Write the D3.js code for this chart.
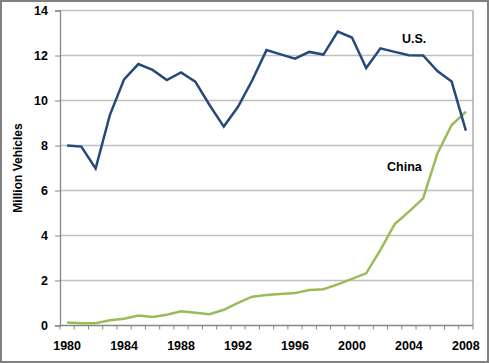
<!doctype html>
<meta charset="utf-8">
<title>Vehicle sales</title>
<script src="https://cdn.jsdelivr.net/npm/d3@7"></script>
<style>
  body { margin: 0; background: #fff; }
  text { font-family: "Liberation Sans", Arial, sans-serif; font-weight: bold; fill: #000; }
</style>
<body>
<script>
var years = d3.range(1980, 2009);
var usSales = [8.0, 7.95, 6.98, 9.35, 10.94, 11.62, 11.36, 10.91, 11.25, 10.84,
  9.8, 8.84, 9.72, 10.9, 12.24, 12.05, 11.86, 12.16, 12.04, 13.06,
  12.8, 11.44, 12.32, 12.16, 12.01, 12.0, 11.31, 10.84, 8.66];
var chinaSales = [0.13, 0.1, 0.1, 0.23, 0.3, 0.44, 0.38, 0.48, 0.63, 0.57,
  0.5, 0.7, 1.01, 1.28, 1.36, 1.4, 1.44, 1.58, 1.61, 1.83,
  2.07, 2.32, 3.36, 4.51, 5.06, 5.65, 7.65, 8.91, 9.5];
var yTicks = [0, 2, 4, 6, 8, 10, 12, 14];
var xLabels = [1980, 1984, 1988, 1992, 1996, 2000, 2004, 2008];

var width = 489, height = 363;
var plotL = 60, plotR = 473, plotT = 10.5, plotB = 325.5;

var svg = d3.select('body').append('svg')
  .attr('width', width)
  .attr('height', height);

// outer frame
svg.append('rect')
  .attr('x', 1).attr('y', 1)
  .attr('width', width - 2).attr('height', height - 2)
  .attr('fill', '#fff')
  .attr('stroke', '#808080')
  .attr('stroke-width', 2);

var x = d3.scaleBand().domain(years).range([plotL, plotR]);
var y = d3.scaleLinear().domain([0, 14]).range([plotB, plotT]);
var cx = function(yr) { return x(yr) + x.bandwidth() / 2; };

// gridlines
svg.append('g').selectAll('line')
  .data(yTicks.filter(function(d) { return d > 0; }))
  .enter().append('line')
  .attr('x1', plotL).attr('x2', plotR)
  .attr('y1', function(d) { return y(d); })
  .attr('y2', function(d) { return y(d); })
  .attr('stroke', '#c0c0c0')
  .attr('stroke-width', 1.3);

// plot frame right side
svg.append('line')
  .attr('x1', plotR).attr('x2', plotR)
  .attr('y1', plotT).attr('y2', plotB)
  .attr('stroke', '#a0a0a0').attr('stroke-width', 1.3);

// y axis
var yAxis = svg.append('g')
  .attr('transform', 'translate(' + plotL + ',0)')
  .call(d3.axisLeft(y).tickValues(yTicks).tickSize(5).tickPadding(7));
yAxis.select('.domain').attr('stroke', '#868686').attr('stroke-width', 1.3);
yAxis.selectAll('.tick line').attr('stroke', '#868686');
yAxis.selectAll('text').style('font-size', '12.5px').style('font-family', '"Liberation Sans", Arial, sans-serif').style('font-weight', 'bold');

// x axis: ticks on category boundaries
var xAxisG = svg.append('g');
xAxisG.append('line')
  .attr('x1', plotL).attr('x2', plotR)
  .attr('y1', plotB).attr('y2', plotB)
  .attr('stroke', '#868686').attr('stroke-width', 1.3);
xAxisG.selectAll('line.tk')
  .data(years.concat([2009]))
  .enter().append('line')
  .attr('class', 'tk')
  .attr('x1', function(d) { return d === 2009 ? plotR : x(d); })
  .attr('x2', function(d) { return d === 2009 ? plotR : x(d); })
  .attr('y1', plotB).attr('y2', plotB + 4)
  .attr('stroke', '#868686');
xAxisG.selectAll('text')
  .data(xLabels)
  .enter().append('text')
  .attr('x', function(d) { return cx(d); })
  .attr('y', plotB + 24)
  .attr('text-anchor', 'middle')
  .style('font-size', '12.5px')
  .text(function(d) { return d; });

// axis title
svg.append('text')
  .attr('transform', 'translate(22,' + ((plotT + plotB) / 2) + ') rotate(-90)')
  .attr('text-anchor', 'middle')
  .style('font-size', '12px')
  .text('Million Vehicles');

var line = d3.line()
  .x(function(d, i) { return cx(years[i]); })
  .y(function(d) { return y(d); });

svg.append('path')
  .datum(chinaSales)
  .attr('d', line)
  .attr('fill', 'none')
  .attr('stroke', '#9bbb59')
  .attr('stroke-width', 2.5);

svg.append('path')
  .datum(usSales)
  .attr('d', line)
  .attr('fill', 'none')
  .attr('stroke', '#254a7a')
  .attr('stroke-width', 2.5);

svg.append('text')
  .attr('x', 402).attr('y', 43)
  .style('font-size', '12.5px')
  .text('U.S.');

svg.append('text')
  .attr('x', 387).attr('y', 171)
  .style('font-size', '12.5px')
  .text('China');
</script>
</body>
